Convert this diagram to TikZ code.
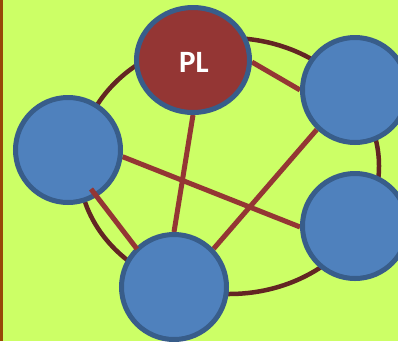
\documentclass[tikz,border=0pt]{standalone}
\usepackage{fontspec}
\setsansfont{Carlito}
\usetikzlibrary{shapes.geometric,backgrounds,calc}
\definecolor{bgreen}{HTML}{CCFF66}
\definecolor{barbrown}{HTML}{984807}
\definecolor{ringbrown}{HTML}{632523}
\definecolor{linkred}{HTML}{943634}
\definecolor{nodeblue}{HTML}{4F81BD}
\definecolor{rimblue}{HTML}{385D8A}
\tikzset{
  peer/.style={circle, fill=nodeblue, draw=rimblue, line width=5pt,
    minimum size=105pt, inner sep=0pt},
  leader/.style={ellipse, fill=linkred, draw=rimblue, line width=5pt,
    minimum width=113pt, minimum height=105pt, inner sep=0pt,
    text=white, font=\sffamily\bfseries\fontsize{31}{31}\selectfont},
  link/.style={draw=linkred, line width=5pt},
  ring/.style={draw=ringbrown, line width=4.5pt}
}
\begin{document}
\begin{tikzpicture}[x=1pt,y=-1pt]
  \useasboundingbox (0,0) rectangle (398,341);
  % nodes of the network
  \node[leader] (pl) at (193,60) {};
  \node[text=white, font=\sffamily\bfseries\fontsize{31}{31}\selectfont]
    (pltext) at (194,62) {PL};
  \node[peer] (tr) at (355,90) {};
  \node[peer] (lf) at (68,150) {};
  \node[peer] (br) at (355,226) {};
  \node[peer] (bt) at (174,287) {};
  \begin{scope}[on background layer]
    \fill[bgreen] (0,0) rectangle (398,341);
    \fill[barbrown] (0,0) rectangle (3,341);
    \coordinate (rc) at (229,166);
    \draw[ring] (rc) ellipse [x radius=150, y radius=128];
    % links between peers
    \draw[link] (pl.-2) -- (tr.180);
    \draw[link] (pl.270) -- (bt.90);
    \draw[link] (lf.-7) -- (br.181);
    \draw[link] (tr.226) -- (bt.44);
  \end{scope}
  % link drawn over both rims
  \draw[link] ($(lf.center)+(23,39)$) -- ($(bt.center)+(-37,-38)$);
\end{tikzpicture}
\end{document}
